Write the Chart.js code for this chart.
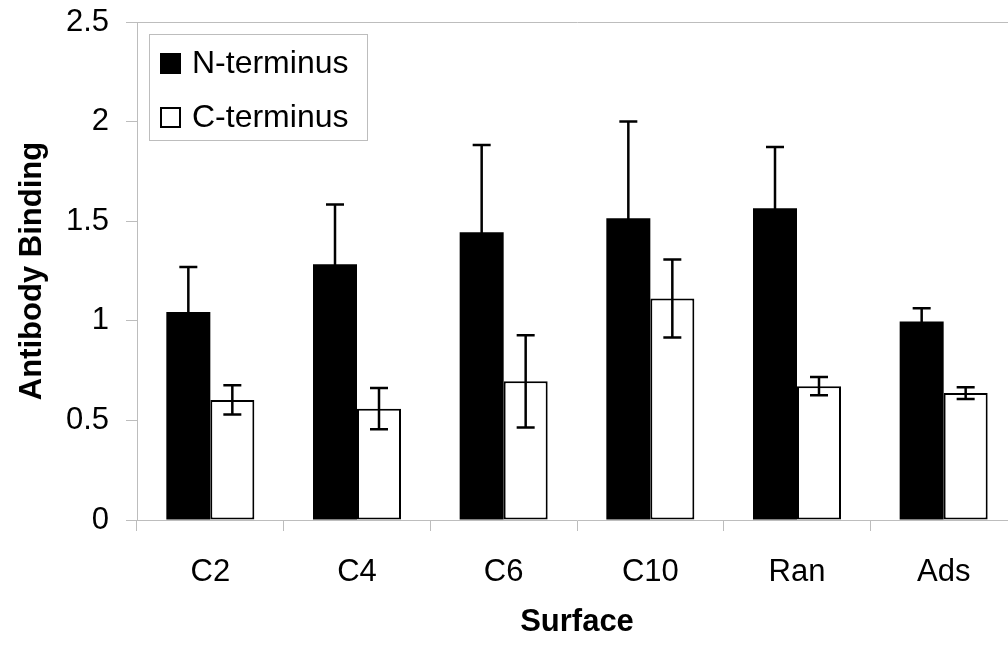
<!DOCTYPE html>
<html>
<head>
<meta charset="utf-8">
<script src="https://cdn.jsdelivr.net/npm/chart.js@4/dist/chart.umd.min.js"></script>
<style>
  html, body { margin: 0; padding: 0; background: #fff; overflow: hidden; }
  canvas { display: block; }
</style>
</head>
<body>
<canvas id="grafico" width="1017" height="646"></canvas>
<script>
// Datos
const superficies = ["C2", "C4", "C6", "C10", "Ran", "Ads"];
const nTerminus = [1.044, 1.284, 1.445, 1.515, 1.565, 0.997];
const nTerminusErr = [0.226, 0.300, 0.437, 0.485, 0.308, 0.066];
const cTerminus = [0.603, 0.559, 0.696, 1.112, 0.672, 0.637];
const cTerminusErr = [0.074, 0.104, 0.232, 0.196, 0.046, 0.029];
const ticksY = [0, 0.5, 1, 1.5, 2, 2.5];

const FUENTE = "'Liberation Sans', Arial, sans-serif";
const GRIS = "#bdbdbd";

// Barras de error (se dibujan con las escalas del gráfico)
const barrasError = {
  id: "barrasError",
  afterDatasetsDraw(chart) {
    const ctx = chart.ctx;
    const y = chart.scales.y;
    ctx.save();
    ctx.strokeStyle = "#000";
    ctx.lineWidth = 2.5;
    chart.data.datasets.forEach((ds, i) => {
      const meta = chart.getDatasetMeta(i);
      meta.data.forEach((bar, j) => {
        const v = ds.data[j], e = ds.errores[j];
        const yTop = y.getPixelForValue(v + e);
        const yBot = y.getPixelForValue(v - e);
        const x = bar.x;
        ctx.beginPath();
        ctx.moveTo(x, yTop); ctx.lineTo(x, yBot);
        ctx.moveTo(x - 9, yTop); ctx.lineTo(x + 9, yTop);
        ctx.moveTo(x - 9, yBot); ctx.lineTo(x + 9, yBot);
        ctx.stroke();
      });
    });
    ctx.restore();
  }
};

// Leyenda con recuadro dentro del área del gráfico
const leyenda = {
  id: "leyenda",
  afterDraw(chart) {
    const ctx = chart.ctx;
    const a = chart.chartArea;
    const x0 = a.left + 12, y0 = a.top + 12;
    ctx.save();
    ctx.fillStyle = "#fff";
    ctx.fillRect(x0, y0, 218, 106);
    ctx.strokeStyle = GRIS;
    ctx.lineWidth = 1;
    ctx.strokeRect(x0 + 0.5, y0 + 0.5, 218, 106);
    ctx.font = "32px " + FUENTE;
    ctx.textBaseline = "middle";
    chart.data.datasets.forEach((ds, i) => {
      const cy = y0 + 29 + i * 54;
      ctx.fillStyle = ds.backgroundColor;
      ctx.fillRect(x0 + 11, cy - 10, 21, 21);
      if (ds.borderWidth) {
        ctx.strokeStyle = "#000";
        ctx.lineWidth = 2;
        ctx.strokeRect(x0 + 12, cy - 9, 19, 19);
      }
      ctx.fillStyle = "#000";
      ctx.fillText(ds.label, x0 + 43, cy + 1);
    });
    ctx.restore();
  }
};

const chart = new Chart(document.getElementById("grafico").getContext("2d"), {
  type: "bar",
  data: {
    labels: superficies,
    datasets: [
      {
        label: "N-terminus",
        data: nTerminus,
        errores: nTerminusErr,
        backgroundColor: "#000",
        borderWidth: 0,
        categoryPercentage: 0.6,
        barPercentage: 1
      },
      {
        label: "C-terminus",
        data: cTerminus,
        errores: cTerminusErr,
        backgroundColor: "#fff",
        borderColor: "#000",
        borderWidth: 2,
        borderSkipped: false,
        categoryPercentage: 0.6,
        barPercentage: 1
      }
    ]
  },
  options: {
    responsive: false,
    animation: false,
    devicePixelRatio: 1,
    layout: { padding: 0 },
    plugins: {
      legend: { display: false },
      tooltip: { enabled: false }
    },
    scales: {
      x: {
        grid: {
          offset: true,
          drawOnChartArea: false,
          tickLength: 11,
          color: GRIS
        },
        border: { display: true, color: GRIS, width: 1 },
        ticks: { color: "#000", padding: 23, font: { family: FUENTE, size: 31 } },
        title: {
          display: true,
          text: "Surface",
          color: "#000",
          padding: { top: 0, bottom: 5 },
          font: { family: FUENTE, size: 31, weight: "bold" }
        },
        afterFit(scale) { scale.height = 126; }
      },
      y: {
        min: 0,
        max: 2.5,
        afterBuildTicks(scale) { scale.ticks = ticksY.map(v => ({ value: v })); },
        grid: {
          drawOnChartArea: true,
          tickLength: 11,
          color: c => (c.tick && c.tick.value === 2.5 ? GRIS : "rgba(0,0,0,0)"),
          tickColor: GRIS
        },
        border: { display: true, color: GRIS, width: 1 },
        ticks: {
          color: "#000",
          padding: 17,
          font: { family: FUENTE, size: 31 },
          callback: v => String(v)
        },
        title: {
          display: true,
          text: "Antibody Binding",
          color: "#000",
          padding: { top: 14, bottom: 0 },
          font: { family: FUENTE, size: 31, weight: "bold" }
        },
        afterFit(scale) {
          scale.width = 137;
          scale.paddingTop = 22;
        }
      }
    }
  },
  plugins: [barrasError, leyenda]
});
</script>
</body>
</html>
